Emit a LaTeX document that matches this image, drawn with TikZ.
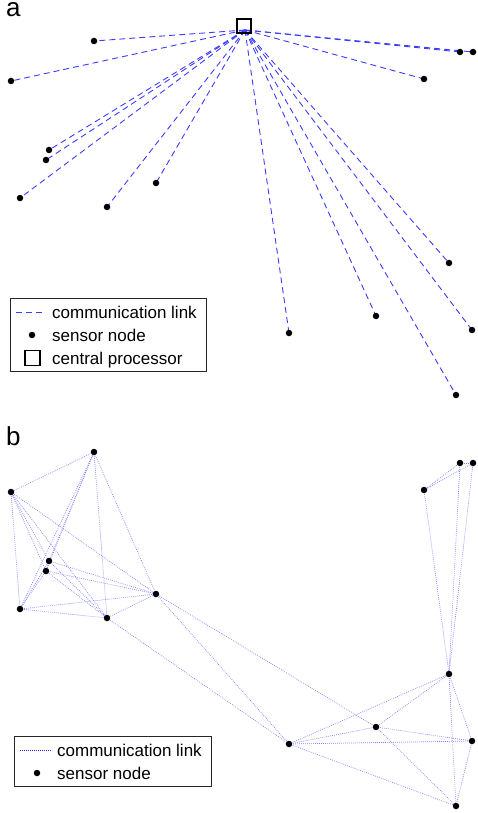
\documentclass[tikz,border=0pt]{standalone}
\usepackage{fontspec}
\setmainfont{Liberation Sans}
\pgfdeclarelayer{bg}
\pgfsetlayers{bg,main}
\definecolor{linkA}{RGB}{60,60,255}
\definecolor{linkB}{RGB}{130,130,255}
\begin{document}
\begin{tikzpicture}[x=1pt,y=-1pt,
  sensor/.style={circle,fill=black,inner sep=0pt,minimum size=6.5pt},
  hubbox/.style={draw=black,line width=1.6pt,minimum size=14pt,inner sep=0pt},
  dashlink/.style={draw=linkA,line width=0.9pt,dash pattern=on 6pt off 4pt},
  dotlink/.style={draw=linkB,line width=0.7pt,dash pattern=on 0.8pt off 1.2pt},
  legbox/.style={draw=black!85,line width=0.9pt,fill=white},
  legtext/.style={font=\fontsize{17}{20}\selectfont,anchor=base west,inner sep=0pt},
  panel/.style={font=\fontsize{26}{30}\selectfont,anchor=base west,inner sep=0pt,text height=14pt}]
\useasboundingbox (0,0) rectangle (477,813);

% sensor nodes (panel a and panel b share the layout, b shifted down)
\foreach \n/\x/\y in {A/94/41,B/11/81,C/49/150,D/46/160,E/20/198,F/107/207,G/156/183,
                      H/460/52,I/473/52,J/424/79,K/289/333,L/376/316,M/449/263,N/472/330,O/456/395}{
  \node[sensor] (a\n) at (\x,\y) {};
  \node[sensor] (b\n) at (\x,\y+411) {};
}

% central processor
\node[hubbox] (cp) at (244,26) {};
\coordinate (hub) at (245,30);

\begin{pgfonlayer}{bg}
  \foreach \n in {A,B,C,D,E,F,G,H,I,J,K,L,M,N,O}{
    \draw[dashlink] (hub) -- (a\n.center);
  }
  \foreach \u/\v in {A/B,A/C,A/D,A/E,A/F,A/G,B/C,B/D,B/E,B/F,B/G,C/D,C/E,C/F,C/G,
                     D/E,D/F,D/G,E/F,E/G,F/G,G/K,G/L,F/K,
                     H/I,H/J,I/J,J/M,H/M,I/M,
                     K/L,K/M,K/N,K/O,L/M,L/N,L/O,M/N,M/O,N/O}{
    \draw[dotlink] (b\u.center) -- (b\v.center);
  }
\end{pgfonlayer}

% legend a
\draw[legbox] (10.5,298.5) rectangle (206.5,371);
\coordinate (la1) at (16,312);
\coordinate (la2) at (46,312);
\draw[dashlink] (la1) -- (la2);
\node[sensor] (lasens) at (32,335) {};
\node[hubbox,minimum size=15pt,line width=1.5pt] (lacp) at (32.5,358) {};
\node[legtext] (lat1) at (52,318) {communication link};
\node[legtext] (lat2) at (52,341) {sensor node};
\node[legtext] (lat3) at (52,364) {central processor};

% legend b
\draw[legbox] (14.5,736) rectangle (211,786);
\coordinate (lb1) at (20,750);
\coordinate (lb2) at (52,750);
\draw[dotlink,draw=blue!85] (lb1) -- (lb2);
\node[sensor] (lbsens) at (37,773) {};
\node[legtext] (lbt1) at (57,756) {communication link};
\node[legtext] (lbt2) at (57,779) {sensor node};

% panel labels
\node[panel] (pa) at (6,17) {a};
\node[panel] (pb) at (6,445) {b};
\end{tikzpicture}
\end{document}
